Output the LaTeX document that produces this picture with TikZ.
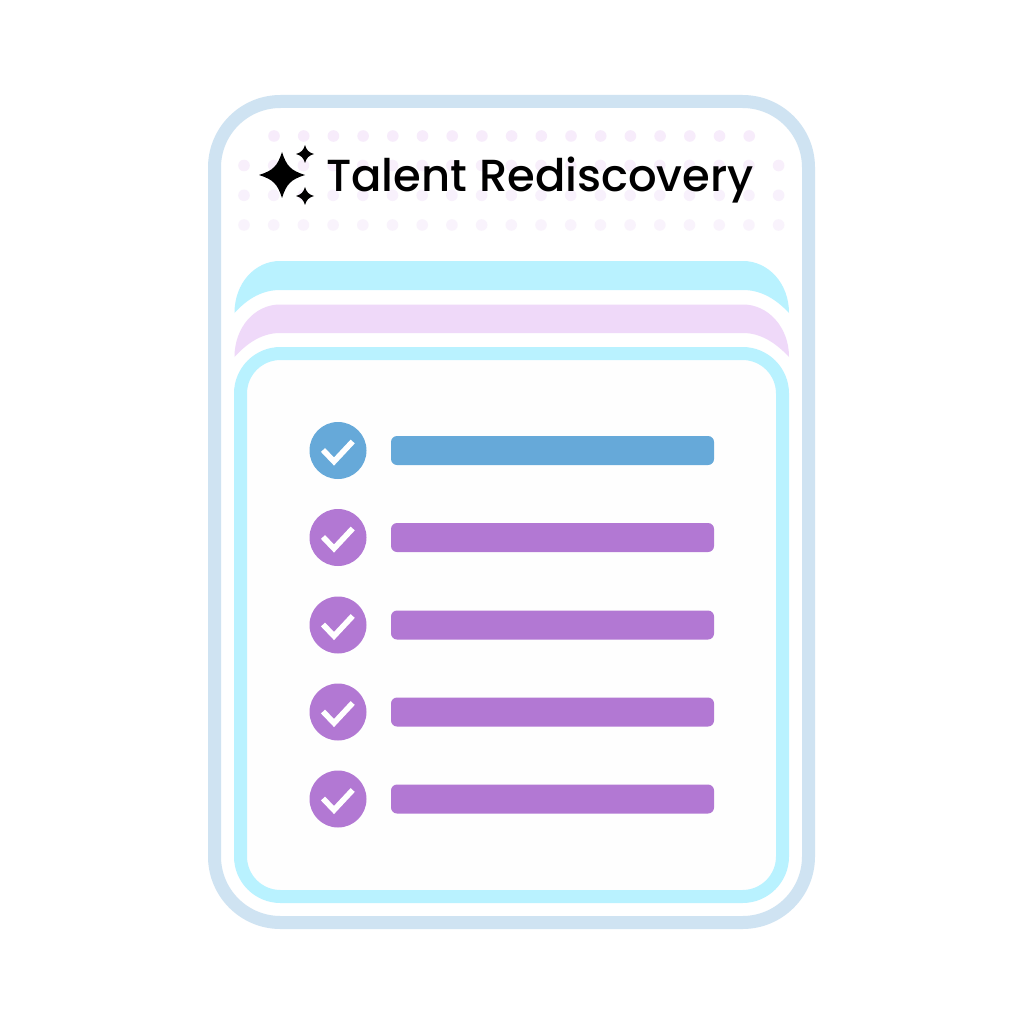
\documentclass[tikz,border=0pt]{standalone}
\usepackage{fontspec}
\setmainfont{Poppins Medium}
\definecolor{frameblue}{HTML}{CFE3F2}
\definecolor{cyanband}{HTML}{B9F2FF}
\definecolor{lilac}{HTML}{EFD9F9}
\definecolor{blueitem}{HTML}{66A9D9}
\definecolor{purpleitem}{HTML}{B278D3}
\definecolor{dotA}{HTML}{F7ECFB}
\definecolor{dotB}{HTML}{F9F3FC}
\definecolor{panel}{HTML}{FEFEFE}
\tikzset{
  checkmark/.style={draw=white,line width=5.6pt,miter limit=10},
  itembar/.style={rounded corners=6pt},
  fourstar/.pic={\fill[black] (-1,0) .. controls (-0.38,-0.2) and (-0.2,-0.38) .. (0,-1)
      .. controls (0.2,-0.38) and (0.38,-0.2) .. (1,0)
      .. controls (0.38,0.2) and (0.2,0.38) .. (0,1)
      .. controls (-0.2,0.38) and (-0.38,0.2) .. (-1,0) -- cycle;}
}
\begin{document}
\begin{tikzpicture}[x=1pt,y=-1pt]
\useasboundingbox (0,0) rectangle (1024,1024);
\fill[white] (0,0) rectangle (1024,1024);
% outer frame
\draw[frameblue,fill=white,line width=13pt,rounded corners=66pt] (214.5,101.5) rectangle (808.5,922.5);
% dots
\foreach \i in {0,...,16} \fill[dotA] ({274+29.7*\i},136) circle (5.8pt);
\foreach \i in {0,...,18} {
  \fill[dotB!50!dotA] ({244+29.7*\i},165.5) circle (5.8pt);
  \fill[dotB!70!dotA] ({244+29.7*\i},195.3) circle (5.8pt);
  \fill[dotB] ({244+29.7*\i},225) circle (5.8pt);
}
% title
\node[anchor=base west,inner sep=0pt,font=\fontsize{44.9}{45}\selectfont] (title) at (326,192) {Talent Rediscovery};
% stars
\pic[xscale=23,yscale=23] at (282,175) {fourstar};
\pic[xscale=9,yscale=9] at (305,154) {fourstar};
\pic[xscale=9,yscale=9] at (305,196) {fourstar};
% crescents
\fill[cyanband] (234.5,313) .. controls (234.5,283) and (255,261) .. (280,261) -- (743,261)
  .. controls (768,261) and (789,283) .. (789,313)
  .. controls (775,298) and (760,290) .. (743,290) -- (280,290)
  .. controls (263,290) and (248,298) .. (234.5,313) -- cycle;
\fill[lilac] (234.5,357) .. controls (234.5,327) and (255,304.5) .. (280,304.5) -- (743,304.5)
  .. controls (768,304.5) and (789,327) .. (789,357)
  .. controls (775,342) and (760,333) .. (743,333) -- (280,333)
  .. controls (263,333) and (248,342) .. (234.5,357) -- cycle;
% panel
\draw[cyanband,fill=panel,line width=13pt,rounded corners=40pt] (240.5,353.5) rectangle (782.5,896.5);
% items
\foreach \yy/\col in {450.5/blueitem,537.5/purpleitem,625/purpleitem,712/purpleitem,799/purpleitem} {
  \fill[\col] (338,\yy) circle (28.5pt);
  \draw[checkmark] (323,{\yy-0.5}) -- (334,{\yy+11}) -- (352.7,{\yy-9});
  \fill[\col,itembar] (391,{\yy-14.5}) rectangle (714,{\yy+14.5});
}
\end{tikzpicture}
\end{document}
